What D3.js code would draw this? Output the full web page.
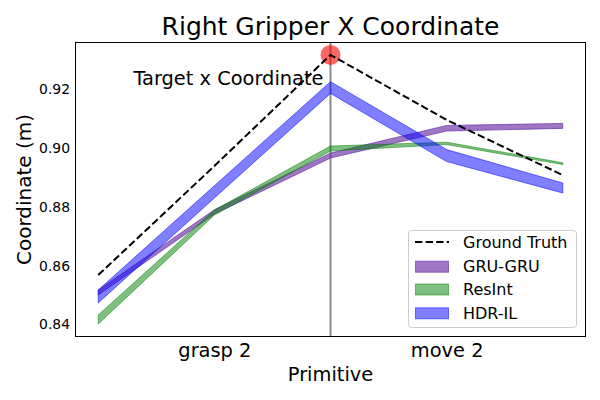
<!DOCTYPE html>
<html><head><meta charset="utf-8">
<script src="https://cdn.jsdelivr.net/npm/d3@7"></script>
<style>body{margin:0;background:#fff;} svg{display:block;font-family:"DejaVu Sans",sans-serif;}</style>
</head><body>
<svg id="c" width="600" height="400"></svg>
<script>
const steps = [0, 1, 2, 3, 4];
const tickLabels = ["grasp 2", "move 2"];
const tickPositions = [1, 3];
const yTicks = [0.84, 0.86, 0.88, 0.90, 0.92];
const groundTruth = [0.8568, 0.8939, 0.9317, 0.9096, 0.8908];
const gruUpper = [0.8517, 0.8790, 0.8983, 0.9077, 0.9084];
const gruLower = [0.8500, 0.8775, 0.8966, 0.9058, 0.9067];
const resUpper = [0.8432, 0.8789, 0.9007, 0.9020, 0.8950];
const resLower = [0.8401, 0.8772, 0.8990, 0.9012, 0.8944];
const hdrUpper = [0.8517, 0.8872, 0.9226, 0.8995, 0.8881];
const hdrLower = [0.8473, 0.8830, 0.9186, 0.8954, 0.8847];
const seriesNames = ["Ground Truth", "GRU-GRU", "ResInt", "HDR-IL"];
const targetStep = 2;

const svg = d3.select("#c");
const L = 75, R = 586, T = 42, B = 337;
const x = d3.scaleLinear().domain([-0.2, 4.2]).range([L, R]);
const y = d3.scaleLinear().domain([0.8357, 0.9361]).range([B, T]);

const bands = [
  {name: "GRU-GRU", up: gruUpper, lo: gruLower, color: "#6a2ca6", op: 0.65},
  {name: "ResInt", up: resUpper, lo: resLower, color: "#008000", op: 0.5},
  {name: "HDR-IL", up: hdrUpper, lo: hdrLower, color: "#0000ff", op: 0.5}
];

const g = svg.append("g");
// vertical separator
g.append("line").attr("x1", x(targetStep)).attr("x2", x(targetStep))
  .attr("y1", T).attr("y2", B).attr("stroke", "#000").attr("stroke-opacity", 0.45).attr("stroke-width", 2);

bands.forEach(b => {
  const area = d3.area().x((d, i) => x(steps[i])).y0((d, i) => y(b.lo[i])).y1((d, i) => y(b.up[i]));
  g.append("path").attr("d", area(steps)).attr("fill", b.color).attr("fill-opacity", b.op)
    .attr("stroke", b.color).attr("stroke-opacity", b.op).attr("stroke-width", 1);
});

// target circle
g.append("circle").attr("cx", x(targetStep)).attr("cy", y(groundTruth[targetStep])).attr("r", 10)
  .attr("fill", "#ff0000").attr("fill-opacity", 0.6);

const line = d3.line().x((d, i) => x(steps[i])).y(d => y(d));
g.append("path").attr("d", line(groundTruth)).attr("fill", "none").attr("stroke", "#000")
  .attr("stroke-width", 2).attr("stroke-dasharray", "7.4,3.2");

svg.append("text").attr("x", x(targetStep) - 7).attr("y", y(groundTruth[targetStep]) + 30)
  .attr("text-anchor", "end").attr("font-size", 19.4).text("Target x Coordinate");

// frame
svg.append("rect").attr("x", L + 0.5).attr("y", T + 0.5).attr("width", R - L - 1).attr("height", B - T - 1)
  .attr("fill", "none").attr("stroke", "#000").attr("stroke-width", 1);

// axes (no tick marks)
const xAxis = d3.axisBottom(x).tickValues(tickPositions).tickFormat((d, i) => tickLabels[i]).tickSize(0).tickPadding(6);
const xa = svg.append("g").attr("transform", `translate(0,${B})`).call(xAxis);
xa.select(".domain").remove();
xa.selectAll("text").attr("font-size", 19.4).attr("font-family", "DejaVu Sans").attr("fill", "#000");

const yAxis = d3.axisLeft(y).tickValues(yTicks).tickFormat(d3.format(".2f")).tickSize(0).tickPadding(5);
const ya = svg.append("g").attr("transform", `translate(${L},0)`).call(yAxis);
ya.select(".domain").remove();
ya.selectAll("text").attr("font-size", 13.9).attr("font-family", "DejaVu Sans").attr("fill", "#000");

// titles
svg.append("text").attr("x", (L + R) / 2).attr("y", 35).attr("text-anchor", "middle")
  .attr("font-size", 25).text("Right Gripper X Coordinate");
svg.append("text").attr("x", (L + R) / 2).attr("y", 381).attr("text-anchor", "middle")
  .attr("font-size", 19.4).text("Primitive");
svg.append("text").attr("transform", `translate(31,${(T + B) / 2}) rotate(-90)`).attr("text-anchor", "middle")
  .attr("font-size", 20).text("Coordinate (m)");

// legend
const lg = svg.append("g");
lg.append("rect").attr("x", 408.5).attr("y", 230.5).attr("width", 168).attr("height", 97).attr("rx", 3)
  .attr("fill", "#fff").attr("fill-opacity", 0.8).attr("stroke", "#ccc");
const rowY = [242, 266.7, 289.5, 313.3];
seriesNames.forEach((n, i) => {
  const cy = rowY[i];
  if (i === 0) {
    lg.append("line").attr("x1", 415).attr("x2", 449).attr("y1", cy).attr("y2", cy)
      .attr("stroke", "#000").attr("stroke-width", 2).attr("stroke-dasharray", "7.4,3.2");
  } else {
    const b = bands[i - 1];
    lg.append("rect").attr("x", 415.5).attr("y", cy - 5.5).attr("width", 33).attr("height", 11)
      .attr("fill", b.color).attr("fill-opacity", b.op).attr("stroke", b.color).attr("stroke-opacity", b.op);
  }
  lg.append("text").attr("x", 463).attr("y", cy).attr("dy", "0.35em").attr("font-size", 16).text(n);
});
</script>
</body></html>
